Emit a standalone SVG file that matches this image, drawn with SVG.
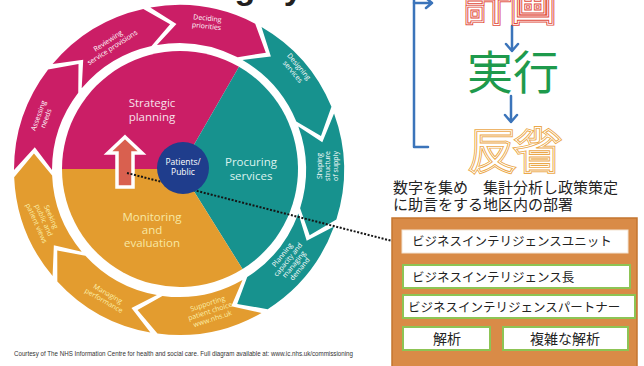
<svg xmlns="http://www.w3.org/2000/svg" xmlns:xlink="http://www.w3.org/1999/xlink" width="644" height="366" viewBox="0 0 644 366">
  <style>
    .mag{fill:#CB1E66}
    .teal{fill:#17928E}
    .org{fill:#E39C2F}
    .rl{font-family:"Open Sans","Noto Sans",sans-serif;font-size:7px;text-anchor:middle;fill:#ffffff}
    .rl.y{fill:#FBEFA8}
    .pl{font-family:"Open Sans","Noto Sans",sans-serif;font-size:11.5px;text-anchor:middle}
    .jp{font-family:"Noto Sans CJK JP",sans-serif}
    .big{font-family:"Noto Sans CJK JP",sans-serif;font-size:46px}
    .box{fill:#ffffff;stroke:#8DC455;stroke-width:2}
    .bl{font-family:"Noto Sans CJK JP",sans-serif;font-size:14px;fill:#222}
    .kt{font-size:12.5px}
    .blue{fill:none;stroke:#3B74BA;stroke-width:2.5;stroke-linecap:round;stroke-linejoin:round}
  </style>
  <defs>
    <text id="kk" class="big" x="464" y="19">計画</text>
    <text id="hs" class="big" x="469" y="167">反省</text>
  </defs>

  <rect width="644" height="366" fill="#ffffff"/>

  <!-- heading, clipped by the top edge -->
  <text x="6" y="-1" font-family="Liberation Sans, sans-serif" font-weight="bold" font-size="34" fill="#231F20">commissioning cycle</text>

  <!-- inner pie -->
  <g id="pie">
    <path id="strategic" class="mag" d="M180,169 L62,169 A118,118 0 0 1 239,66.81 Z"/>
    <path id="procuring" class="teal" d="M180,169 L239,66.81 A118,118 0 0 1 242.53,269.07 Z"/>
    <path id="monitoring" class="org" d="M180,169 L242.53,269.07 A118,118 0 0 1 62,169 Z"/>
    <text class="pl" fill="#F7E1EB" font-size="12.5"><tspan x="152" y="107">Strategic</tspan><tspan x="152" y="121">planning</tspan></text>
    <text class="pl" fill="#DDF2EF" font-size="13.5"><tspan x="251" y="166">Procuring</tspan><tspan x="251" y="180">services</tspan></text>
    <text class="pl" fill="#F8E8A4"><tspan x="152" y="221">Monitoring</tspan><tspan x="152" y="234">and</tspan><tspan x="152" y="247">evaluation</tspan></text>
  </g>

  <!-- outer ring of process arrows -->
  <g id="deciding">
    <path class="mag" d="M150.35,7.51 A165,165 0 0 1 255.19,23.64 L265.84,52.64 L237.64,57.35 A127,127 0 0 0 156.95,44.93 L176.45,24.02 Z"/>
    <text class="rl" transform="translate(207,22) rotate(6)"><tspan x="0" y="-1.4">Deciding</tspan><tspan x="0" y="6.6">priorities</tspan></text>
  </g>
  <g id="designing">
    <path class="teal" d="M261.5,27.11 A165,165 0 0 1 331.44,106.86 L320.97,135.92 L296.33,121.4 A127,127 0 0 0 242.5,60.01 L270.88,56.54 Z"/>
    <text class="rl" transform="translate(296,69) rotate(50)"><tspan x="0" y="-1.4">Designing</tspan><tspan x="0" y="6.6">services</tspan></text>
  </g>
  <g id="shaping">
    <path class="teal" d="M334.05,113.57 A165,165 0 0 1 336.36,219.62 L309.66,235.15 L300.12,208.19 A127,127 0 0 0 298.34,126.56 L322.32,142.14 Z"/>
    <text class="rl" transform="translate(327,166) rotate(-90)"><tspan x="0" y="-5.4">Shaping</tspan><tspan x="0" y="2.6">structure</tspan><tspan x="0" y="10.6">of supply</tspan></text>
  </g>
  <g id="planning">
    <path class="teal" d="M334.05,226.43 A165,165 0 0 1 267.65,309.16 L237.22,303.89 L247.24,277.11 A127,127 0 0 0 298.34,213.44 L306.69,240.78 Z"/>
    <text class="rl" transform="translate(291,262) rotate(-51)"><tspan x="0" y="-8.9">Planning</tspan><tspan x="0" y="-1.4">capacity and</tspan><tspan x="0" y="6.1">managing</tspan><tspan x="0" y="13.6">demand</tspan></text>
  </g>
  <g id="supporting">
    <path class="org" d="M261.5,312.89 A165,165 0 0 1 157.46,333.59 L137.53,309.99 L162.42,295.91 A127,127 0 0 0 242.5,279.99 L231.32,306.3 Z"/>
    <text class="rl y" transform="translate(210,311) rotate(-18)"><tspan x="0" y="-5.4">Supporting</tspan><tspan x="0" y="2.6">patient choice</tspan><tspan x="0" y="10.6">www.nhs.uk</tspan></text>
  </g>
  <g id="managing">
    <path class="org" d="M150.35,332.49 A165,165 0 0 1 57.35,281.47 L57.25,250.58 L85.37,255.8 A127,127 0 0 0 156.95,295.07 L131.47,308.05 Z"/>
    <text class="rl y" transform="translate(106,297) rotate(30)"><tspan x="0" y="-1.4">Managing</tspan><tspan x="0" y="6.6">performance</tspan></text>
  </g>
  <g id="seeking">
    <path class="org" d="M52.6,276.06 A165,165 0 0 1 14.16,177.2 L33.94,153.47 L52.12,175.54 A127,127 0 0 0 81.71,251.63 L53.85,245.2 Z"/>
    <text class="rl y" transform="translate(44,220) rotate(66)"><tspan x="0" y="-5.4">Seeking</tspan><tspan x="0" y="2.6">public and</tspan><tspan x="0" y="10.6">patient views</tspan></text>
  </g>
  <g id="assessing">
    <path class="mag" d="M14,170 A165,165 0 0 1 48.1,69.55 L78.5,64.1 L78.24,92.69 A127,127 0 0 0 52,170 L34.8,147.16 Z"/>
    <text class="rl" transform="translate(42,117) rotate(-70)"><tspan x="0" y="-1.4">Assessing</tspan><tspan x="0" y="6.6">needs</tspan></text>
  </g>
  <g id="reviewing">
    <path class="mag" d="M52.6,63.94 A165,165 0 0 1 143.29,8.91 L170.09,24.27 L151.51,46.01 A127,127 0 0 0 81.71,88.37 L83.22,59.81 Z"/>
    <text class="rl" transform="translate(110,44) rotate(-33)"><tspan x="0" y="-1.4">Reviewing</tspan><tspan x="0" y="6.6">service provisions</tspan></text>
  </g>

  <!-- upward arrow inside the pie -->
  <g id="up-arrow">
    <polygon points="125,137 142,153 133,153 133,187 117,187 117,153 108,153" fill="#D9604F" stroke="#ffffff" stroke-width="3.5" stroke-linejoin="miter"/>
  </g>

  <!-- connectors -->
  <g id="connectors">
    <line x1="127" y1="173" x2="396" y2="242" stroke="#151515" stroke-width="2" stroke-dasharray="2 1.6"/>
    <!-- feedback bracket -->
    <path class="blue" d="M428,147 L414,147 L414,-2"/>
    <path class="blue" d="M414,3 L432,3 M426,-2 L432,3 L426,8"/>
    <!-- step arrows -->
    <path class="blue" d="M512,26 L512,51 M506,44 L512,51 L518,44"/>
    <path class="blue" d="M511,96 L511,122 M505,115 L511,122 L517,115"/>
  </g>

  <!-- centre disc -->
  <g id="patients">
    <circle cx="183" cy="168" r="26" fill="#1F3D8C"/>
    <text font-family="Open Sans, Noto Sans, sans-serif" font-size="8.5" fill="#ffffff" text-anchor="middle"><tspan x="183" y="165">Patients/</tspan><tspan x="183" y="175">Public</tspan></text>
  </g>

  <!-- plan / do / review -->
  <g id="keikaku">
    <use xlink:href="#kk" fill="none" stroke="#E0483A" stroke-width="4.5"/>
    <use xlink:href="#kk" fill="none" stroke="#ffffff" stroke-width="2.6"/>
    <use xlink:href="#kk" fill="#ffffff" stroke="#E0483A" stroke-width="0.9"/>
  </g>
  <g id="jikko">
    <text class="big" x="467" y="89" fill="#1E9A4C">実行</text>
  </g>
  <g id="hansei">
    <use xlink:href="#hs" fill="none" stroke="#EBA849" stroke-width="4.5"/>
    <use xlink:href="#hs" fill="none" stroke="#ffffff" stroke-width="2.6"/>
    <use xlink:href="#hs" fill="#ffffff" stroke="#EBA849" stroke-width="0.9"/>
  </g>

  <!-- department description -->
  <g id="caption">
    <text class="jp" font-size="15" fill="#222"><tspan x="393" y="193">数字を集め　集計分析し政策策定</tspan><tspan x="393" y="210">に助言をする地区内の部署</tspan></text>
  </g>

  <!-- unit structure -->
  <g id="unit">
    <rect x="392" y="218" width="245" height="152" fill="#D98B47" stroke="#C4752F" stroke-width="1.5"/>
    <g id="unit-name">
      <rect x="402" y="230" width="226" height="23" fill="#ffffff" stroke="#F3E3D2" stroke-width="1"/>
      <text class="bl kt" x="412" y="246">ビジネスインテリジェンスユニット</text>
    </g>
    <g id="head">
      <rect class="box" x="403" y="265" width="227" height="23"/>
      <text class="bl kt" x="412" y="282">ビジネスインテリジェンス長</text>
    </g>
    <g id="partner">
      <rect class="box" x="403" y="295" width="232" height="23"/>
      <text class="bl kt" x="408" y="312">ビジネスインテリジェンスパートナー</text>
    </g>
    <g id="analysis">
      <rect class="box" x="403" y="327" width="87" height="23"/>
      <text class="bl" x="447" y="344" text-anchor="middle">解析</text>
    </g>
    <g id="complex-analysis">
      <rect class="box" x="503" y="327" width="125" height="23"/>
      <text class="bl" x="565" y="344" text-anchor="middle">複雑な解析</text>
    </g>
  </g>

  <!-- credit line -->
  <text x="14" y="356" font-family="Liberation Sans Narrow, Liberation Sans, sans-serif" font-size="7" fill="#333" textLength="339" lengthAdjust="spacingAndGlyphs">Courtesy of The NHS Information Centre for health and social care. Full diagram available at: www.ic.nhs.uk/commissioning</text>
</svg>
